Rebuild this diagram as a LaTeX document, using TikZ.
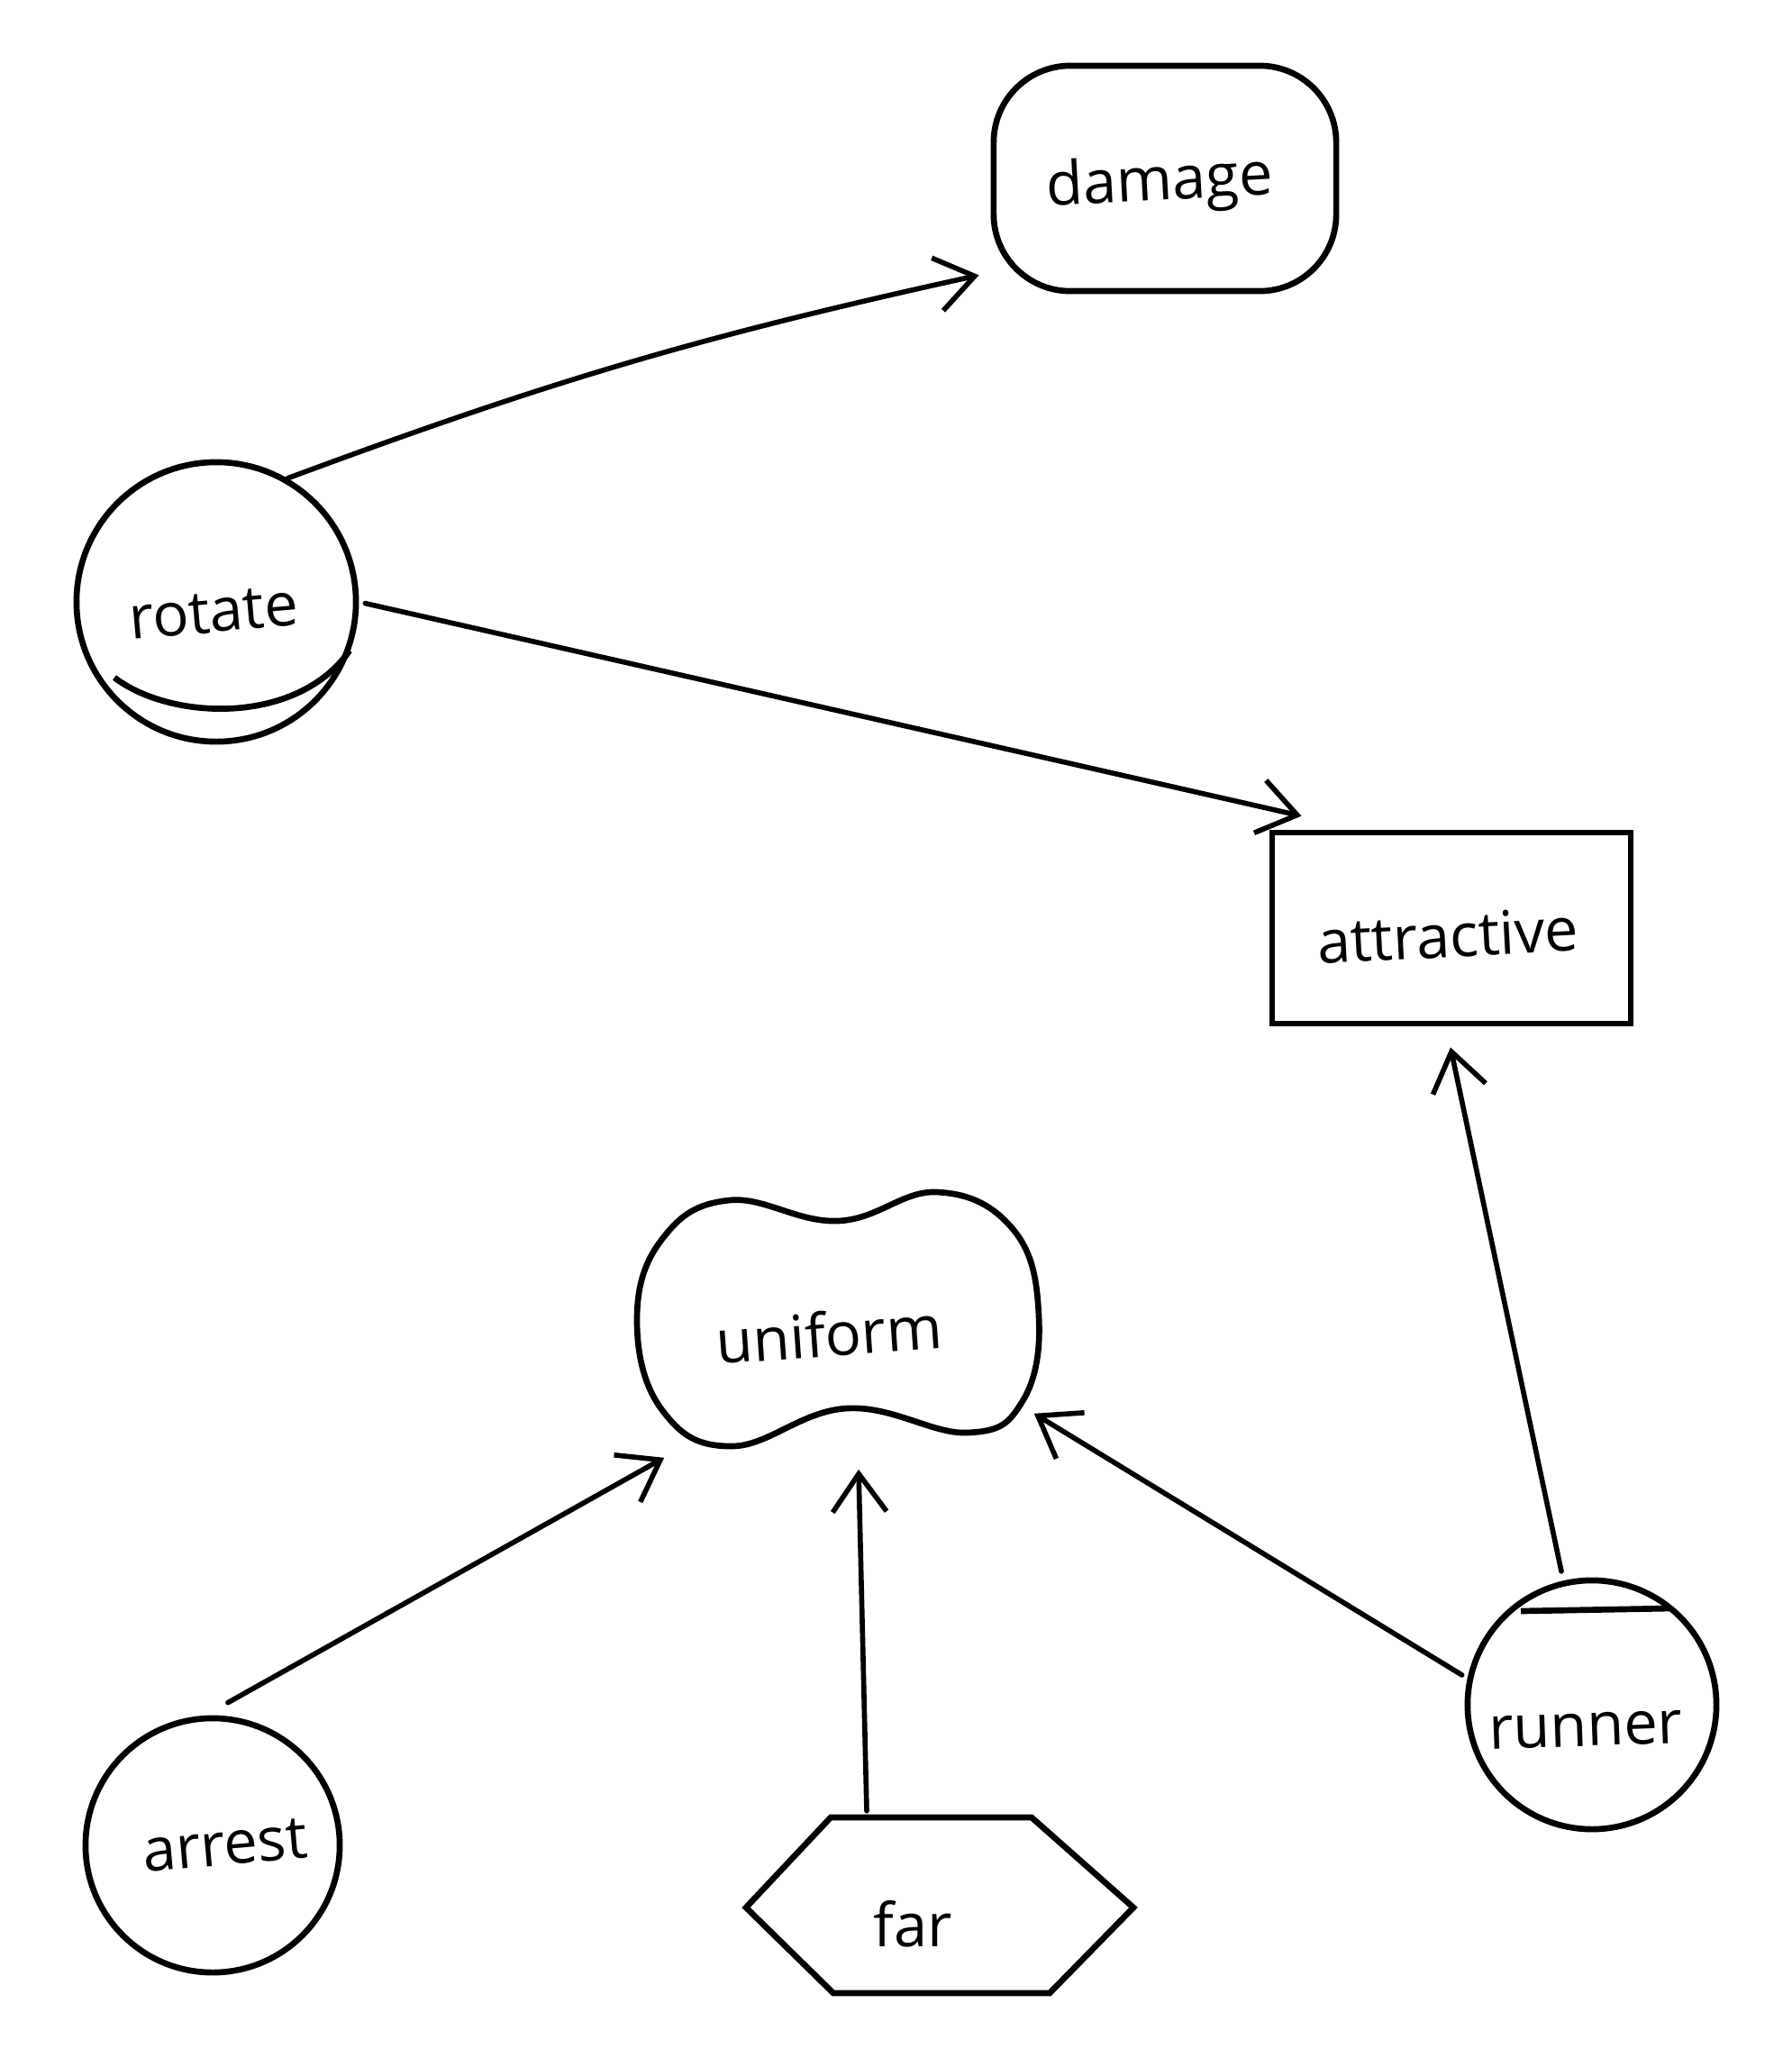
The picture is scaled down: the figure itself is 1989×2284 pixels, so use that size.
\documentclass[tikz,border=0pt]{standalone}
\usepackage{fontspec}
\setmainfont{Open Sans}
\usetikzlibrary{arrows.meta,calc}
\begin{document}
\begin{tikzpicture}[x=0.01cm,y=-0.01cm,
  outline/.style={draw=black, line width=1.9pt},
  lbl/.style={font=\fontsize{19}{23}\selectfont, inner sep=0pt},
  link/.style={draw=black, line width=1.6pt, line cap=round,
    -{Straight Barb[length=12pt,width=17pt,line width=1.6pt]}},
]
\useasboundingbox (0,0) rectangle (1989,2284);

% shapes
\node[outline, rounded corners=0.85cm, minimum width=3.8cm, minimum height=2.5cm] (damage) at (1293,198) {};
\node[outline, circle, minimum size=3.1cm, inner sep=0pt] (rotate) at (240,668) {};
\draw[outline] (127,752) .. controls (190,800) and (330,805) .. (388,722);
\node[outline, rectangle, minimum width=3.98cm, minimum height=2.12cm] (attractive) at (1611,1030) {};
\draw[outline] plot[smooth cycle, tension=0.7] coordinates {
  (930,1355) (1040,1323) (1125,1365) (1153,1460) (1135,1555)
  (1073,1590) (940,1563) (813,1605) (735,1565)
  (707,1465) (735,1375) (810,1332)};
\node[minimum width=4.46cm, minimum height=2.8cm] (uniform) at (930,1465) {};
\draw[outline] (828,2117) -- (922,2017) -- (1145,2017) -- (1258,2117) -- (1165,2212) -- (925,2212) -- cycle;
\node[minimum width=4.3cm, minimum height=1.95cm] (far) at (1043,2115) {};
\node[outline, circle, minimum size=2.76cm, inner sep=0pt] (runner) at (1767,1892) {};
\draw[outline] (1688,1788) -- (1855,1785);
\node[outline, circle, minimum size=2.82cm, inner sep=0pt] (arrest) at (236,2048) {};

% labels
\node[lbl, rotate=3] (damage-text) at (1287,205) {damage};
\node[lbl, rotate=5] (rotate-text) at (237,680) {rotate};
\node[lbl, rotate=3] (attractive-text) at (1607,1038) {attractive};
\node[lbl, rotate=4] (uniform-text) at (920,1480) {uniform};
\node[lbl] (far-text) at (1013,2135) {far};
\node[lbl, rotate=2] (runner-text) at (1760,1920) {runner};
\node[lbl, rotate=5] (arrest-text) at (250,2048) {arrest};

% connectors
\draw[link] (rotate.60) to[bend left=4] ($(damage.south west)+(-13,-21)$);
\draw[link, shorten <=2pt] (rotate.east) -- ($(attractive.north west)+(36,-15)$);
\draw[link] ($(arrest.north)+(17,-14)$) -- ($(uniform.south west)+(31,12)$);
\draw[link] ($(far.north)+(-81,-7)$) -- ($(uniform.south)+(23,25)$);
\draw[link, shorten <=2pt] (runner.168) -- ($(uniform.south east)+(-6,-37)$);
\draw[link, shorten <=3pt] (runner.103) -- ($(attractive.south)+(-1,23)$);
\end{tikzpicture}
\end{document}
